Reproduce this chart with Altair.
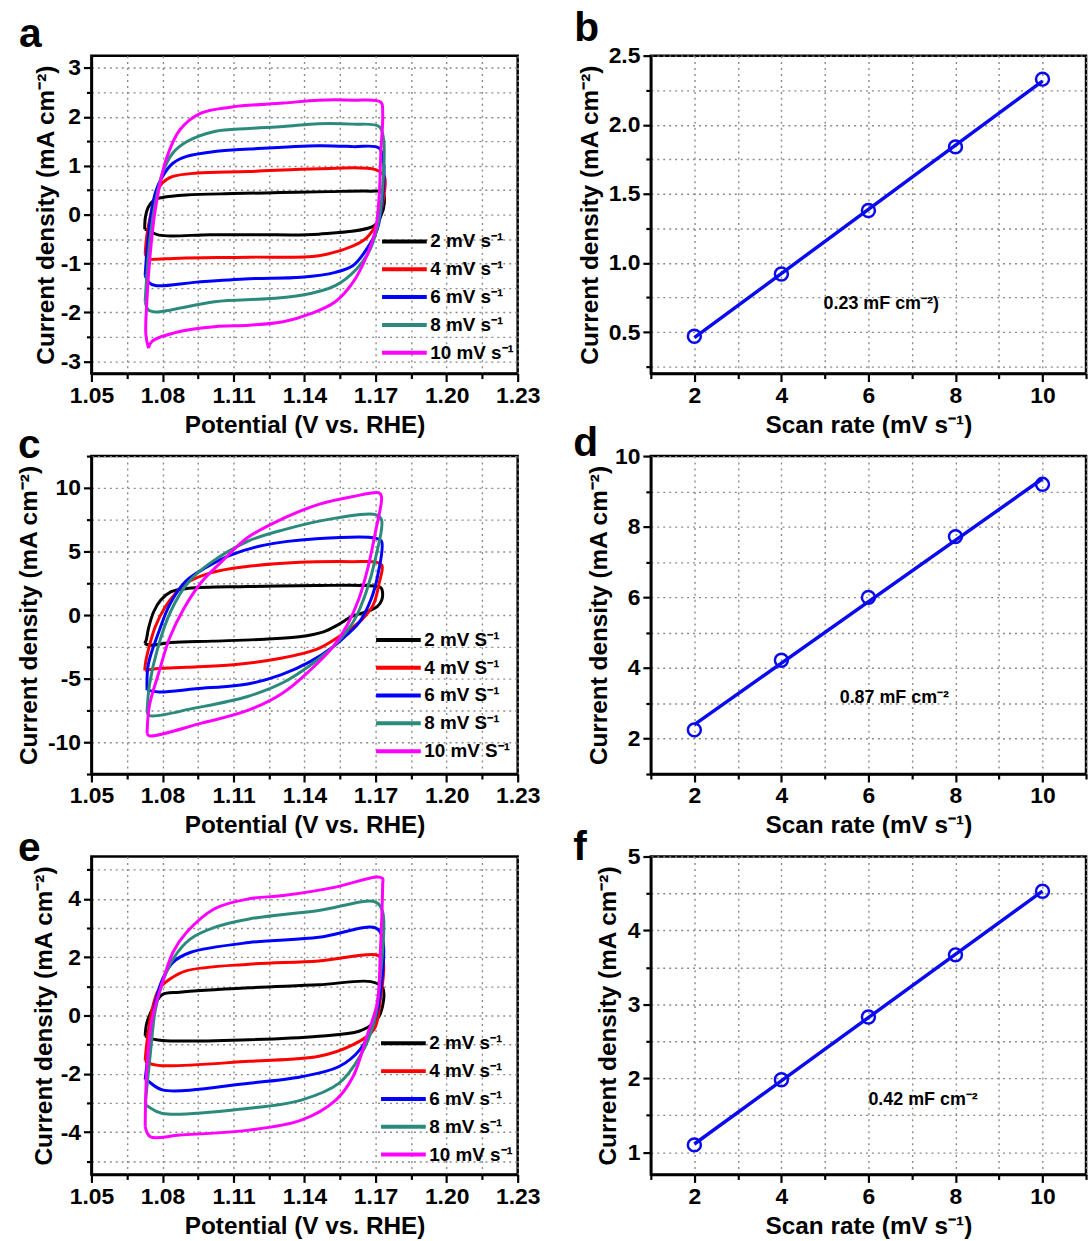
import altair as alt
import pandas as pd

FONT = "Liberation Sans"
COLORS = ["#000000", "#ff0000", "#0000ff", "#2b8a7c", "#ff00ff"]
LABELS_S = ["2 mV s⁻¹", "4 mV s⁻¹", "6 mV s⁻¹", "8 mV s⁻¹", "10 mV s⁻¹"]
LABELS_C = ["2 mV S⁻¹", "4 mV S⁻¹", "6 mV S⁻¹", "8 mV S⁻¹", "10 mV S⁻¹"]

# ---------------- panel a : CV loops (V vs RHE, mA cm-2) ----------------
A2_V = [1.0725, 1.0728, 1.0740, 1.0765, 1.0800, 1.0900, 1.1100, 1.1300, 1.1500, 1.1680, 1.1730, 1.1737, 1.1722, 1.1693, 1.1460, 1.1200, 1.1000, 1.0785, 1.0741, 1.0725]
A2_J = [-0.30, -0.05, 0.15, 0.30, 0.35, 0.40, 0.43, 0.45, 0.47, 0.48, 0.46, 0.24, -0.03, -0.23, -0.40, -0.41, -0.41, -0.42, -0.32, -0.30]
A4_V = [1.0727, 1.0734, 1.0749, 1.0770, 1.0800, 1.0844, 1.0946, 1.1166, 1.1460, 1.1700, 1.1737, 1.1730, 1.1707, 1.1663, 1.1605, 1.1460, 1.1166, 1.0873, 1.0770, 1.0741, 1.0727]
A4_J = [-0.80, -0.43, -0.03, 0.38, 0.65, 0.78, 0.85, 0.88, 0.94, 0.92, 0.78, 0.24, -0.16, -0.47, -0.64, -0.84, -0.87, -0.89, -0.91, -0.91, -0.80]
A6_V = [1.0727, 1.0734, 1.0749, 1.0770, 1.0800, 1.0844, 1.0902, 1.1020, 1.1166, 1.1460, 1.1605, 1.1715, 1.1734, 1.1727, 1.1707, 1.1663, 1.1605, 1.1530, 1.1386, 1.1166, 1.0946, 1.0770, 1.0741, 1.0727]
A6_J = [-1.24, -0.77, -0.09, 0.45, 0.78, 1.05, 1.19, 1.29, 1.34, 1.41, 1.39, 1.36, 1.05, 0.24, -0.30, -0.70, -1.04, -1.18, -1.28, -1.31, -1.38, -1.45, -1.38, -1.24]
A8_V = [1.0727, 1.0734, 1.0749, 1.0770, 1.0800, 1.0844, 1.0902, 1.1020, 1.1166, 1.1310, 1.1460, 1.1605, 1.1715, 1.1734, 1.1730, 1.1715, 1.1678, 1.1620, 1.1530, 1.1386, 1.1240, 1.1020, 1.0770, 1.0741, 1.0727]
A8_J = [-1.78, -1.24, -0.43, 0.24, 0.85, 1.26, 1.49, 1.70, 1.76, 1.80, 1.86, 1.85, 1.80, 1.53, 0.58, -0.09, -0.70, -1.11, -1.45, -1.65, -1.72, -1.78, -1.99, -1.95, -1.78]
A10_V = [1.0741, 1.0730, 1.0734, 1.0749, 1.0770, 1.0815, 1.0873, 1.0960, 1.1093, 1.1310, 1.1460, 1.1605, 1.1722, 1.1730, 1.1722, 1.1715, 1.1700, 1.1663, 1.1605, 1.1530, 1.1429, 1.1310, 1.1166, 1.1020, 1.0873, 1.0756, 1.0741]
A10_J = [-2.73, -2.46, -1.78, -0.77, 0.11, 1.12, 1.73, 2.07, 2.20, 2.28, 2.34, 2.34, 2.30, 2.07, 1.26, 0.38, -0.30, -0.84, -1.38, -1.78, -2.02, -2.19, -2.26, -2.29, -2.39, -2.59, -2.73]

# ---------------- panel c ----------------
C2_V = [1.0725, 1.0731, 1.0741, 1.0763, 1.0793, 1.0837, 1.0910, 1.1159, 1.1451, 1.1656, 1.1722, 1.1729, 1.1726, 1.1707, 1.1671, 1.1598, 1.1539, 1.1480, 1.1378, 1.1232, 1.1012, 1.0837, 1.0749, 1.0725]
C2_J = [-2.24, -2.00, -1.05, 0.26, 1.18, 1.84, 2.10, 2.24, 2.32, 2.32, 2.16, 1.84, 1.18, 0.66, 0.32, -0.13, -0.79, -1.32, -1.71, -1.90, -2.05, -2.16, -2.37, -2.24]
C4_V = [1.0725, 1.0730, 1.0745, 1.0770, 1.0810, 1.0855, 1.0900, 1.1000, 1.1150, 1.1380, 1.1600, 1.1705, 1.1727, 1.1715, 1.1690, 1.1640, 1.1600, 1.1520, 1.1450, 1.1300, 1.1100, 1.0900, 1.0780, 1.0725]
C4_J = [-4.35, -3.60, -2.40, -0.90, 0.60, 1.70, 2.50, 3.30, 3.80, 4.15, 4.20, 4.15, 3.90, 2.50, 0.80, -0.40, -1.00, -2.00, -2.70, -3.40, -3.90, -4.10, -4.20, -4.35]
C6_V = [1.0735, 1.0740, 1.0785, 1.0830, 1.0895, 1.0980, 1.1085, 1.1230, 1.1450, 1.1700, 1.1725, 1.1710, 1.1680, 1.1630, 1.1570, 1.1520, 1.1420, 1.1300, 1.1165, 1.0940, 1.0785, 1.0735]
C6_J = [-5.90, -3.90, -1.30, 0.80, 2.60, 3.70, 4.70, 5.50, 6.00, 6.05, 5.80, 3.20, 1.20, -0.60, -1.70, -2.50, -3.70, -4.70, -5.40, -5.80, -6.05, -5.90]
C8_V = [1.0735, 1.0745, 1.0780, 1.0835, 1.0910, 1.1010, 1.1160, 1.1310, 1.1525, 1.1700, 1.1725, 1.1700, 1.1660, 1.1610, 1.1560, 1.1520, 1.1420, 1.1310, 1.1160, 1.0940, 1.0745, 1.0735]
C8_J = [-7.60, -5.50, -2.60, 0.30, 2.60, 4.20, 5.80, 6.70, 7.60, 7.90, 7.50, 4.50, 1.80, -0.40, -1.70, -2.50, -4.00, -5.30, -6.40, -7.30, -7.90, -7.60]
C10_V = [1.0735, 1.0745, 1.0785, 1.0830, 1.0890, 1.0965, 1.1050, 1.1160, 1.1310, 1.1460, 1.1600, 1.1715, 1.1725, 1.1700, 1.1670, 1.1630, 1.1580, 1.1520, 1.1420, 1.1310, 1.1160, 1.0965, 1.0745, 1.0735]
C10_J = [-9.30, -7.10, -4.50, -1.80, 0.50, 2.60, 4.20, 6.10, 7.60, 8.70, 9.30, 9.60, 9.30, 6.60, 3.90, 1.30, -0.80, -2.50, -4.40, -6.10, -7.50, -8.50, -9.50, -9.30]

# ---------------- panel e ----------------
E2_V = [1.0727, 1.0734, 1.0763, 1.0800, 1.0873, 1.1166, 1.1460, 1.1680, 1.1730, 1.1722, 1.1693, 1.1630, 1.1460, 1.1166, 1.0800, 1.0741, 1.0727]
E2_J = [-0.70, -0.25, 0.30, 0.72, 0.80, 0.95, 1.05, 1.16, 0.95, 0.10, -0.25, -0.54, -0.71, -0.83, -0.86, -0.77, -0.70]
E4_V = [1.0727, 1.0734, 1.0756, 1.0785, 1.0830, 1.0900, 1.1166, 1.1460, 1.1700, 1.1730, 1.1720, 1.1693, 1.1605, 1.1460, 1.1166, 1.0800, 1.0741, 1.0727]
E4_J = [-1.55, -0.94, 0.20, 0.90, 1.24, 1.53, 1.76, 1.87, 2.08, 1.93, 0.55, -0.48, -1.00, -1.40, -1.57, -1.72, -1.63, -1.55]
E6_V = [1.0727, 1.0749, 1.0770, 1.0800, 1.0844, 1.0917, 1.1166, 1.1460, 1.1700, 1.1730, 1.1720, 1.1693, 1.1634, 1.1546, 1.1386, 1.1166, 1.0800, 1.0741, 1.0727]
E6_J = [-2.20, -0.70, 0.44, 1.24, 1.82, 2.16, 2.50, 2.68, 3.00, 2.62, 0.78, -0.25, -1.17, -1.75, -2.10, -2.32, -2.55, -2.26, -2.20]
E8_V = [1.0727, 1.0749, 1.0770, 1.0800, 1.0844, 1.0917, 1.1020, 1.1166, 1.1460, 1.1700, 1.1730, 1.1720, 1.1693, 1.1634, 1.1546, 1.1386, 1.1166, 1.0800, 1.0741, 1.0727]
E8_J = [-3.05, -1.29, 0.20, 1.13, 1.93, 2.62, 3.02, 3.31, 3.60, 3.89, 3.54, 1.36, -0.25, -1.40, -2.32, -2.90, -3.18, -3.36, -3.13, -3.05]
E10_V = [1.0727, 1.0734, 1.0756, 1.0800, 1.0844, 1.0902, 1.1020, 1.1166, 1.1310, 1.1530, 1.1707, 1.1730, 1.1730, 1.1720, 1.1707, 1.1663, 1.1605, 1.1532, 1.1386, 1.1166, 1.0873, 1.0749, 1.0727]
E10_J = [-3.80, -1.86, -0.14, 1.13, 2.16, 2.85, 3.66, 4.00, 4.11, 4.40, 4.75, 4.69, 4.52, 2.16, 0.44, -0.71, -2.09, -2.90, -3.59, -3.93, -4.10, -4.16, -3.80]

# ---------------- panels b, d, f : scan-rate dependence ----------------
RATE = [2, 4, 6, 8, 10]
B_J = [0.47, 0.92, 1.38, 1.84, 2.33]
D_J = [2.25, 4.22, 6.00, 7.72, 9.20]
F_J = [1.10, 1.98, 2.83, 3.67, 4.53]
B_NOTE = ["0.23 mF cm⁻²)", 4.97, 0.70]
D_NOTE = ["0.87 mF cm⁻²", 5.34, 3.15]
F_NOTE = ["0.42 mF cm⁻²", 6.00, 1.70]

# tick grids
X_CV = [1.05, 1.065, 1.08, 1.095, 1.11, 1.125, 1.14, 1.155, 1.17, 1.185, 1.2, 1.215, 1.23]
X_RATE = [1, 2, 3, 4, 5, 6, 7, 8, 9, 10, 11]
Y_A = [-3.0, -2.5, -2.0, -1.5, -1.0, -0.5, 0.0, 0.5, 1.0, 1.5, 2.0, 2.5, 3.0]
Y_C = [-12.5, -10, -7.5, -5, -2.5, 0, 2.5, 5, 7.5, 10, 12.5]
Y_E = [-5, -4, -3, -2, -1, 0, 1, 2, 3, 4, 5]
Y_B = [0.25, 0.5, 0.75, 1.0, 1.25, 1.5, 1.75, 2.0, 2.25, 2.5]
Y_D = [1, 2, 3, 4, 5, 6, 7, 8, 9, 10]
Y_F = [1.0, 1.5, 2.0, 2.5, 3.0, 3.5, 4.0, 4.5, 5.0]

W_L, W_R, H = 429, 438, 320
YTITLE = "Current density (mA cm⁻²)"


def make_axis(values, major, label, title, title_x=None, title_pad=6):
    kw = dict(
        values=values,
        grid=True,
        title=title,
        labelExpr=f"({major}) ? ({label}) : ''",
        tickSize={"condition": {"test": major, "value": 8}, "value": 5},
        titlePadding=title_pad,
    )
    if title_x is not None:
        kw["titleX"] = title_x
    return alt.Axis(**kw)


def loops_df(loops, labels):
    rows = []
    for lab, (vs, js) in zip(labels, loops):
        for i, (v, j) in enumerate(zip(vs, js)):
            rows.append({"series": lab, "i": i, "V": v, "J": j})
    return pd.DataFrame(rows)


def letter(ch, dx, dy):
    return alt.Chart(pd.DataFrame({"t": [ch]})).mark_text(
        align="left", baseline="alphabetic", fontSize=41, fontWeight="bold",
        font=FONT, color="black"
    ).encode(text="t:N", x=alt.value(dx), y=alt.value(dy))


X_MAJOR_CV = "round(datum.value*1000) % 30 == 0"


def cv_panel(loops, labels, ydom, yvals, ymajor, ylab, ytitle_x, leg_x, leg_y, ch, ldx, ldy):
    df = loops_df(loops, labels)
    x = alt.X("V:Q", scale=alt.Scale(domain=[1.05, 1.23], nice=False, zero=False),
              axis=make_axis(X_CV, X_MAJOR_CV, "format(datum.value, '.2f')",
                             "Potential (V vs. RHE)"))
    y = alt.Y("J:Q", scale=alt.Scale(domain=ydom, nice=False, zero=False),
              axis=make_axis(yvals, ymajor, ylab, YTITLE, title_x=ytitle_x))
    lines = alt.Chart(df).mark_line(strokeWidth=3, interpolate="catmull-rom").encode(
        x=x, y=y,
        color=alt.Color("series:N", scale=alt.Scale(domain=labels, range=COLORS),
                        legend=alt.Legend(orient="none", legendX=leg_x, legendY=leg_y,
                                          title=None, symbolType="M-2.5,0H2.5",
                                          symbolSize=324, symbolStrokeWidth=4,
                                          labelOffset=15, rowPadding=7, padding=0,
                                          labelFont=FONT, labelFontSize=19,
                                          labelFontWeight="bold", labelColor="black",
                                          labelLimit=300)),
        order=alt.Order("i:Q"),
    )
    return alt.layer(lines, letter(ch, ldx, ldy)).properties(width=W_L, height=H)


def rate_panel(js, note, ydom, yvals, ymajor, ylab, ytitle_x, ch, ldx, ldy):
    df = pd.DataFrame({"rate": RATE, "j": js})
    xs = alt.Scale(domain=[1, 11], nice=False, zero=False)
    ys = alt.Scale(domain=ydom, nice=False, zero=False)
    xa = make_axis(X_RATE, "datum.value % 2 == 0", "'' + datum.value", "Scan rate (mV s⁻¹)")
    ya = make_axis(yvals, ymajor, ylab, YTITLE, title_x=ytitle_x)
    x = alt.X("rate:Q", scale=xs, axis=xa)
    y = alt.Y("j:Q", scale=ys, axis=ya)
    pts = alt.Chart(df).mark_point(shape="circle", filled=False, size=170,
                                   strokeWidth=2.5, color="#0a0aee",
                                   opacity=1).encode(x=x, y=y)
    fit = alt.Chart(df).transform_regression(
        "rate", "j", method="linear", extent=[2, 10]
    ).mark_line(color="#0a0aee", strokeWidth=3.5).encode(x=x, y=y)
    ndf = pd.DataFrame({"t": [note[0]], "rate": [note[1]], "j": [note[2]]})
    txt = alt.Chart(ndf).mark_text(align="left", baseline="middle", fontSize=18,
                                   fontWeight="bold", font=FONT, color="black").encode(
        x=x, y=y, text="t:N")
    return alt.layer(pts, fit, txt, letter(ch, ldx, ldy)).properties(width=W_R, height=H)


INT_TEST = "abs(datum.value - round(datum.value)) < 0.001"
HALF_TEST = "abs(datum.value*2 - round(datum.value*2)) < 0.001"

pa = cv_panel([(A2_V, A2_J), (A4_V, A4_J), (A6_V, A6_J), (A8_V, A8_J), (A10_V, A10_J)],
              LABELS_S, [-3.25, 3.25], Y_A, INT_TEST, "'' + datum.value", -33,
              304, 176, "a", -73, -9)
pc = cv_panel([(C2_V, C2_J), (C4_V, C4_J), (C6_V, C6_J), (C8_V, C8_J), (C10_V, C10_J)],
              LABELS_C, [-12.5, 12.5], Y_C, "datum.value % 5 == 0", "'' + datum.value", -50,
              298, 174, "c", -74, 2)
pe = cv_panel([(E2_V, E2_J), (E4_V, E4_J), (E6_V, E6_J), (E8_V, E8_J), (E10_V, E10_J)],
              LABELS_S, [-5.45, 5.45], Y_E, "datum.value % 2 == 0", "'' + datum.value", -35,
              303, 177, "e", -74, 5)

pb = rate_panel(B_J, B_NOTE, [0.2, 2.5], Y_B, HALF_TEST,
                "format(datum.value, '.1f')", -49, "b", -77, -15)
pd_ = rate_panel(D_J, D_NOTE, [1, 10], Y_D, "datum.value % 2 == 0", "'' + datum.value", -40,
                 "d", -78, 0)
pf = rate_panel(F_J, F_NOTE, [0.7, 5], Y_F, INT_TEST, "'' + datum.value", -31,
                "f", -78, 4)

chart = alt.concat(
    pa, pb, pc, pd_, pe, pf,
    columns=2, spacing={"row": 83, "column": 134}, bounds="flush", align="each",
).resolve_scale(color="independent").properties(
    padding={"left": 15, "top": 2, "right": 2, "bottom": 4},
    background="white",
).configure_axis(
    labelFont=FONT, labelFontSize=23, labelFontWeight="bold", labelColor="black",
    labelPadding=3, labelFlush=False, labelOverlap=False,
    titleFont=FONT, titleFontSize=24.5, titleFontWeight="bold", titleColor="black",
    domainColor="black", domainWidth=2.5, tickColor="black", tickWidth=2.2,
    gridColor="#8a8a8a", gridDash=[2, 4], gridWidth=1.4,
).configure_view(stroke="black", strokeWidth=2.5)

chart.save("out.html", embed_options={"renderer": "svg", "actions": False})
